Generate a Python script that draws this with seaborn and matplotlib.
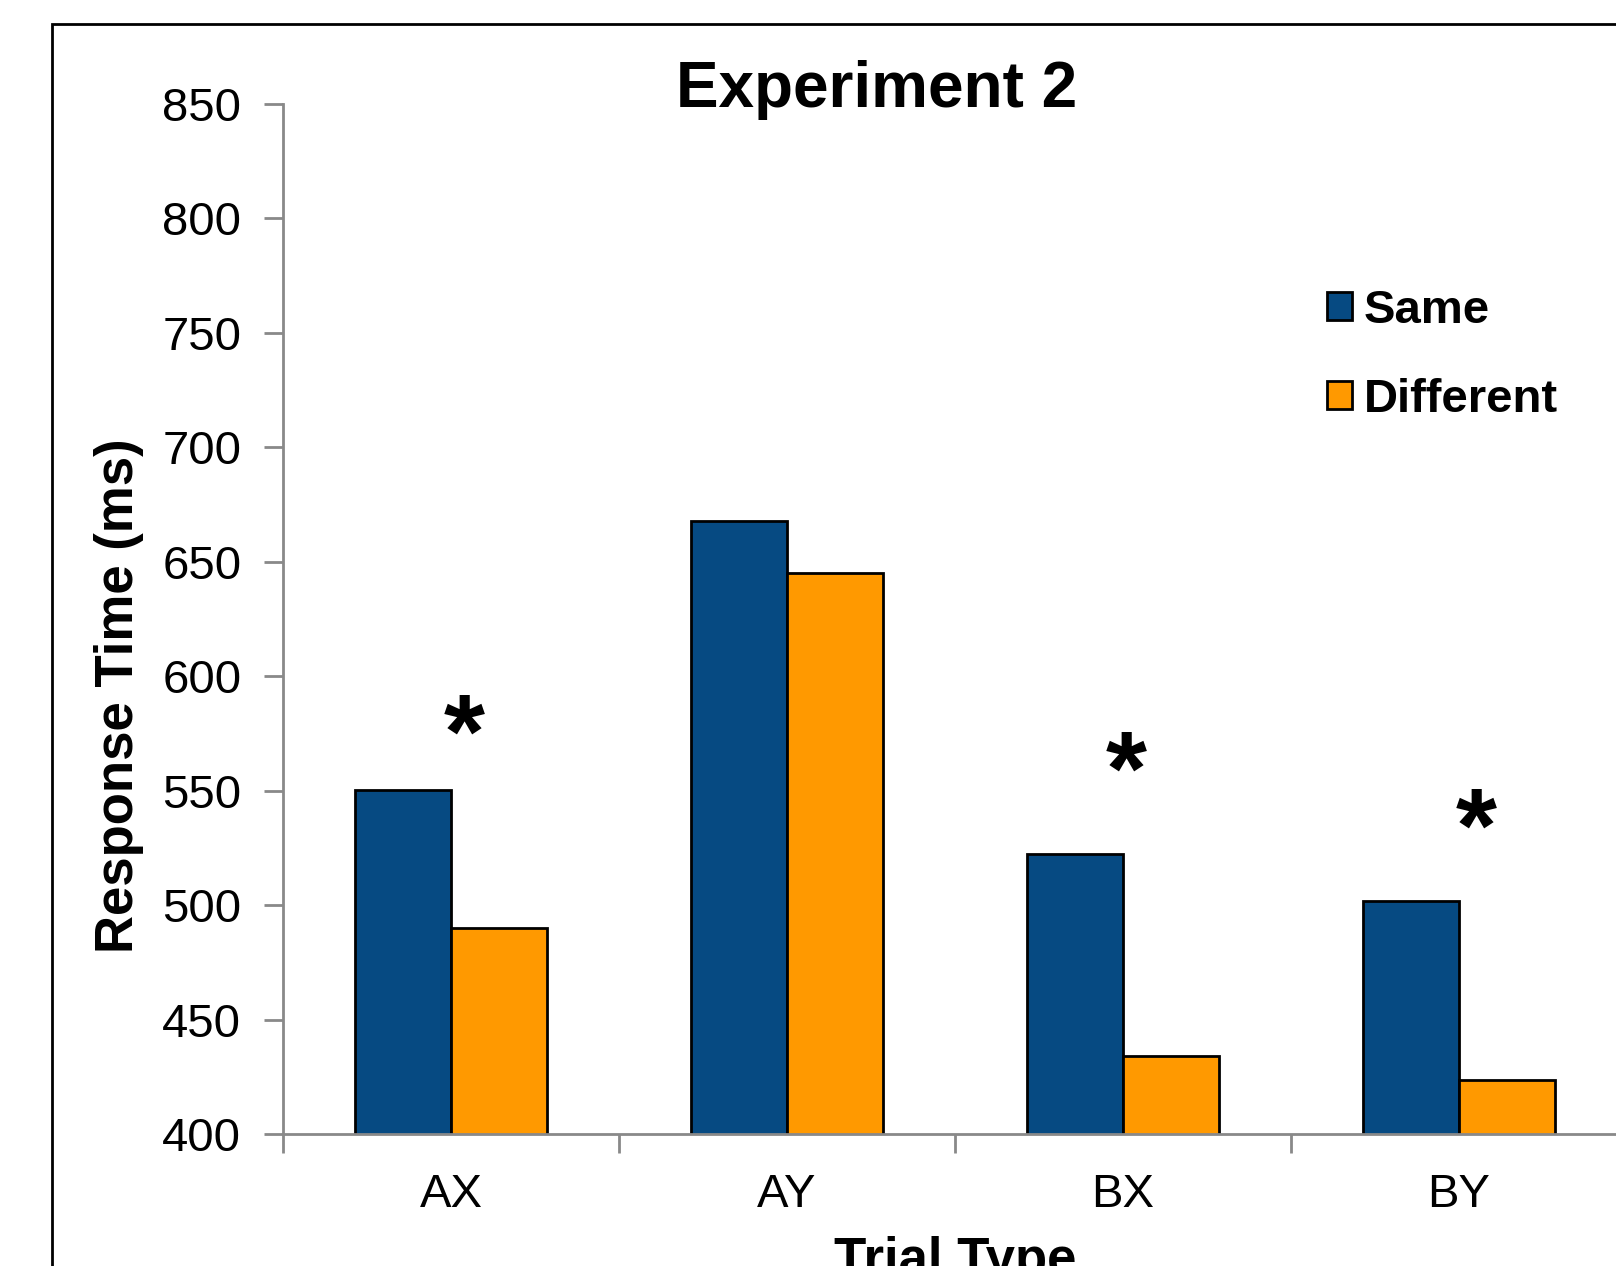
import matplotlib
matplotlib.use("Agg")
import matplotlib.pyplot as plt
import seaborn as sns
import pandas as pd
from matplotlib.patches import Rectangle

# Data
trial_types = ['AX', 'AY', 'BX', 'BY']
same_rt = [550.5, 668, 522.5, 502]
different_rt = [490, 645, 434, 423.5]
# significance stars (x in category units, y in ms)
sig_x = [0.04, 2.01, 3.05]
sig_y = [572, 556, 531]

df = pd.DataFrame({
    'trial': trial_types * 2,
    'cond': ['Same'] * 4 + ['Different'] * 4,
    'rt': same_rt + different_rt,
})

sns.set_theme(style="white")
plt.rcParams['font.family'] = ['Liberation Sans', 'DejaVu Sans']
plt.rcParams['text.color'] = 'black'
plt.rcParams['axes.labelcolor'] = 'black'
plt.rcParams['xtick.labelcolor'] = 'black'
plt.rcParams['ytick.labelcolor'] = 'black'

fig = plt.figure(figsize=(16.16, 12.66), dpi=100)
ax = fig.add_axes([283 / 1616, 1 - 1134 / 1266, 1344 / 1616, 1030 / 1266])

# outer frame (runs off the right and bottom edge)
fig.patches.append(Rectangle((52 / 1616, -0.2), 1.2, 1.2 - 24 / 1266,
                             transform=fig.transFigure, fill=False,
                             edgecolor='black', linewidth=2, zorder=0))

sns.barplot(data=df, x='trial', y='rt', hue='cond', order=trial_types,
            hue_order=['Same', 'Different'],
            palette={'Same': '#064A82', 'Different': '#FF9900'},
            width=0.57, gap=0, edgecolor='black', linewidth=2,
            saturation=1, errorbar=None, ax=ax)

ax.set_xlim(-0.5, 3.5)
ax.set_ylim(400, 850)
ax.set_yticks(range(400, 851, 50))
ax.tick_params(axis='y', direction='out', length=14, width=2, color='#898989',
               labelsize=34, pad=16, left=True)
ax.set_xticks([-0.5, 0.5, 1.5, 2.5, 3.5], minor=True)
ax.tick_params(axis='x', which='major', length=0, labelsize=34, pad=28)
ax.tick_params(axis='x', which='minor', direction='out', length=14, width=2,
               color='#898989', bottom=True)

for side in ['top', 'right']:
    ax.spines[side].set_visible(False)
for side in ['left', 'bottom']:
    ax.spines[side].set_color('#898989')
    ax.spines[side].set_linewidth(2)

ax.set_title('Experiment 2', fontsize=46, fontweight='bold', x=0.442, y=1.0, pad=-2)
ax.set_ylabel('Response Time (ms)', fontsize=38, fontweight='bold')
ax.yaxis.set_label_coords(-0.1034, 0.4252)
ax.set_xlabel('Trial Type', fontsize=38, fontweight='bold', labelpad=14)

for x, y in zip(sig_x, sig_y):
    ax.text(x, y, '*', fontsize=76, fontweight='bold', ha='center', va='center')

handles, labels = ax.get_legend_handles_labels()
ax.legend(handles, labels, loc='upper left', bbox_to_anchor=(1327 / 1616, 0.7717),
          bbox_transform=fig.transFigure, frameon=False,
          prop={'size': 34, 'weight': 'bold'}, handlelength=0.53, handleheight=0.53,
          handletextpad=0.25, labelspacing=0.95, borderpad=0, borderaxespad=0)

fig.savefig('out.png', dpi=100)
